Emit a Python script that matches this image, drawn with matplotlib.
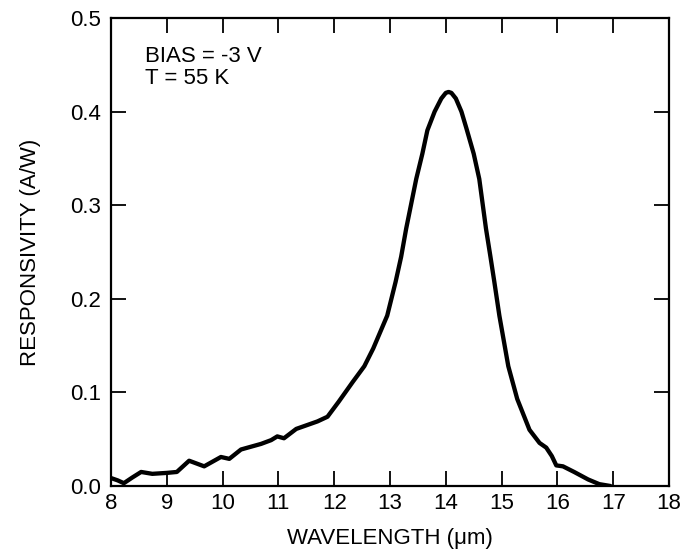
import matplotlib
matplotlib.use("Agg")
import matplotlib.pyplot as plt

plt.rcParams['font.family'] = ['Liberation Sans', 'DejaVu Sans']

wavelength = [8.0, 8.12, 8.23, 8.38, 8.54, 8.74, 9.0, 9.18, 9.4, 9.67, 9.97, 10.12, 10.33, 10.69, 10.87,
              10.98, 11.1, 11.32, 11.7, 11.88, 12.08, 12.33, 12.54, 12.7, 12.95, 13.1, 13.2,
              13.29, 13.47, 13.58, 13.67, 13.8, 13.92, 14.0, 14.05, 14.1, 14.18, 14.28, 14.37,
              14.5, 14.6, 14.72, 14.8, 14.87, 14.96, 15.12, 15.28, 15.5, 15.68, 15.8, 15.9, 15.98,
              16.1, 16.3, 16.55, 16.75, 16.95]
responsivity = [0.0085, 0.006, 0.003, 0.009, 0.015, 0.013, 0.014, 0.015, 0.027, 0.021, 0.031, 0.029,
                0.039, 0.045, 0.049, 0.053, 0.051, 0.061, 0.069, 0.074, 0.090, 0.111, 0.128, 0.147,
                0.182, 0.218, 0.245, 0.275, 0.328, 0.355, 0.380, 0.400, 0.414, 0.420, 0.421, 0.420,
                0.414, 0.400, 0.382, 0.355, 0.328, 0.275, 0.245, 0.218, 0.182, 0.128, 0.093, 0.060,
                0.046, 0.041, 0.032, 0.022, 0.021, 0.015, 0.007, 0.002, 0.0]

xticks = list(range(8, 19))
yticks = [0.0, 0.1, 0.2, 0.3, 0.4, 0.5]
ytick_labels = ["0.0", "0.1", "0.2", "0.3", "0.4", "0.5"]

fig = plt.figure(figsize=(6.93, 5.57), dpi=100)
ax = fig.add_axes([111 / 693, 1 - 486 / 557, 558 / 693, 468 / 557])

ax.plot(wavelength, responsivity, color='black', lw=3.1,
        solid_capstyle='round', solid_joinstyle='round')

ax.set_xlim(8, 18)
ax.set_ylim(0, 0.5)
ax.set_xticks(xticks)
ax.set_xticklabels([str(t) for t in xticks])
ax.set_yticks(yticks)
ax.set_yticklabels(ytick_labels)
ax.tick_params(direction='in', length=11, width=1.3, top=True, right=True,
               labelsize=16)
ax.tick_params(axis='x', pad=5)
ax.tick_params(axis='y', pad=7)
for s in ax.spines.values():
    s.set_linewidth(1.6)

ax.set_xlabel("WAVELENGTH (\u03bcm)", fontsize=16, labelpad=10)
ax.set_ylabel("RESPONSIVITY (A/W)", fontsize=16, labelpad=21)

ax.text(0.0615, 0.94, "BIAS = -3 V\nT = 55 K", transform=ax.transAxes,
        fontsize=16, va='top', ha='left', linespacing=1.08)

fig.savefig("out.png", dpi=100)
